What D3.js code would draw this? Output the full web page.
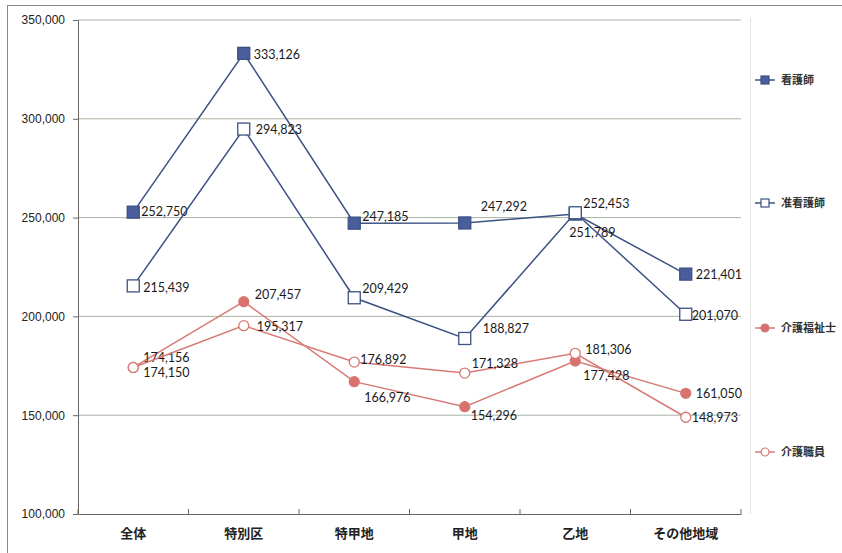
<!DOCTYPE html>
<html>
<head>
<meta charset="utf-8">
<script src="https://cdn.jsdelivr.net/npm/d3@7"></script>
<style>
  body { margin: 0; background: #fff; }
  svg { display: block; }
  .axis text { font-family: "Liberation Sans", Arial, sans-serif; font-size: 12px; fill: #222; }
  .xaxis text { font-family: "Noto Sans CJK JP", sans-serif; font-size: 13px; font-weight: bold; fill: #222; }
  .lbl { font-family: Lato, "Liberation Sans", sans-serif; font-size: 12.5px; fill: #1a1a1a; }
  .leg { font-family: "Noto Sans CJK JP", sans-serif; font-size: 11px; font-weight: bold; fill: #333; }
</style>
</head>
<body>
<script>
//categories and series values
var regions = ["全体", "特別区", "特甲地", "甲地", "乙地", "その他地域"];
var nurse = [252750, 333126, 247185, 247292, 251789, 221401];        //看護師
var assocNurse = [215439, 294823, 209429, 188827, 252453, 201070];   //准看護師
var careWorkerCert = [174156, 207457, 166976, 154296, 177428, 161050]; //介護福祉士
var careStaff = [174150, 195317, 176892, 171328, 181306, 148973];    //介護職員
var yTicks = [100000, 150000, 200000, 250000, 300000, 350000];

//label offsets from each point (layout only)
var labelShift = {
    nurse:   [[8, 4], [10, 6], [8, -2], [16, -12], [-6, 23], [10, 5]],
    assoc:   [[10, 6], [12, 5], [8, -5], [18, -5], [8, -5], [6, 6]],
    cert:    [[10, -5], [11, -3], [10, 20], [6, 13], [8, 19], [10, 5]],
    staff:   [[10, 10], [13, 5], [6, 2], [7, -5], [10, 1], [6, 5]]
};

var width = 842, height = 553;
var margin = {left: 78, right: 101, top: 20, bottom: 39};

var svg = d3.select("body").append("svg")
    .attr("width", width)
    .attr("height", height);

//chart frame lines (left and top edge) and legend area edge
svg.append("line")
    .attr("x1", 7.5).attr("x2", 7.5).attr("y1", 5).attr("y2", height)
    .attr("stroke", "#888").attr("stroke-width", 1);
svg.append("line")
    .attr("x1", 7).attr("x2", width).attr("y1", 5.5).attr("y2", 5.5)
    .attr("stroke", "#888").attr("stroke-width", 1);
svg.append("line")
    .attr("x1", 750.5).attr("x2", 750.5).attr("y1", 18).attr("y2", 514)
    .attr("stroke", "#e2e2e2").attr("stroke-width", 1);

var x = d3.scaleBand()
    .domain(regions)
    .range([margin.left, width - margin.right]);

var y = d3.scaleLinear()
    .domain([100000, 350000])
    .range([height - margin.bottom, margin.top]);

//gridlines
svg.append("g")
    .selectAll("line")
    .data(yTicks.slice(1))
    .enter()
    .append("line")
    .attr("x1", margin.left).attr("x2", width - margin.right)
    .attr("y1", function(d){ return y(d); })
    .attr("y2", function(d){ return y(d); })
    .attr("stroke", "#a7b3a2").attr("stroke-width", 1);

//y axis
var yAxis = svg.append("g")
    .attr("class", "axis")
    .attr("transform", "translate(" + margin.left + ",0)")
    .call(d3.axisLeft(y).tickValues(yTicks).tickFormat(d3.format(",")).tickSize(5).tickPadding(8));
yAxis.select(".domain").attr("stroke", "#666");
yAxis.selectAll(".tick line").attr("stroke", "#666");

//x axis, ticks between categories
var xAxis = svg.append("g")
    .attr("class", "axis xaxis")
    .attr("transform", "translate(0," + (height - margin.bottom) + ")")
    .call(d3.axisBottom(x).tickSize(0).tickPadding(15));
xAxis.select(".domain").attr("stroke", "#666");
xAxis.selectAll(".sep")
    .data(d3.range(regions.length + 1))
    .enter()
    .append("line")
    .attr("x1", function(i){ return margin.left + i * x.step(); })
    .attr("x2", function(i){ return margin.left + i * x.step(); })
    .attr("y1", 0).attr("y2", -5)
    .attr("stroke", "#666");

var cx = function(d, i){ return x(regions[i]) + x.bandwidth() / 2; };

var series = [
    {name: "看護師", values: nurse, color: "#3b5282", fill: "#4a5d9c", shape: "square", key: "nurse"},
    {name: "准看護師", values: assocNurse, color: "#3b5282", fill: "#fff", shape: "square", key: "assoc"},
    {name: "介護福祉士", values: careWorkerCert, color: "#d77a76", fill: "#d9716c", shape: "circle", key: "cert"},
    {name: "介護職員", values: careStaff, color: "#d77a76", fill: "#fff", shape: "circle", key: "staff"}
];

var line = d3.line()
    .x(cx)
    .y(function(d){ return y(d); });

function drawMarker(g, s, px, py){
    if (s.shape == "square") {
        g.append("rect")
            .attr("x", px - 6).attr("y", py - 6)
            .attr("width", 12).attr("height", 12)
            .attr("fill", s.fill).attr("stroke", s.color).attr("stroke-width", 1.3);
    } else {
        g.append("circle")
            .attr("cx", px).attr("cy", py).attr("r", 5)
            .attr("fill", s.fill).attr("stroke", s.color).attr("stroke-width", 1.3);
    }
}

series.forEach(function(s){
    var g = svg.append("g");
    g.append("path")
        .datum(s.values)
        .attr("d", line)
        .attr("fill", "none")
        .attr("stroke", s.color)
        .attr("stroke-width", 1.5);

    s.values.forEach(function(v, i){
        drawMarker(g, s, cx(v, i), y(v));
    });

    g.selectAll(".lbl")
        .data(s.values)
        .enter()
        .append("text")
        .attr("class", "lbl")
        .attr("x", function(d, i){ return cx(d, i) + labelShift[s.key][i][0]; })
        .attr("y", function(d, i){ return y(d) + labelShift[s.key][i][1]; })
        .text(d3.format(","));
});

//legend on the right
var legendY = [80, 203, 328, 452];
series.forEach(function(s, i){
    var lg = svg.append("g")
        .attr("transform", "translate(755," + legendY[i] + ")");
    lg.append("line")
        .attr("x1", 0).attr("x2", 20).attr("y1", 0).attr("y2", 0)
        .attr("stroke", s.color).attr("stroke-width", 1.5);
    if (s.shape == "square") {
        lg.append("rect").attr("x", 6).attr("y", -4).attr("width", 8).attr("height", 8)
            .attr("fill", s.fill).attr("stroke", s.color).attr("stroke-width", 1.2);
    } else {
        lg.append("circle").attr("cx", 10).attr("cy", 0).attr("r", 4)
            .attr("fill", s.fill).attr("stroke", s.color).attr("stroke-width", 1.2);
    }
    lg.append("text")
        .attr("class", "leg")
        .attr("x", 26).attr("y", 4)
        .text(s.name);
});
</script>
</body>
</html>
